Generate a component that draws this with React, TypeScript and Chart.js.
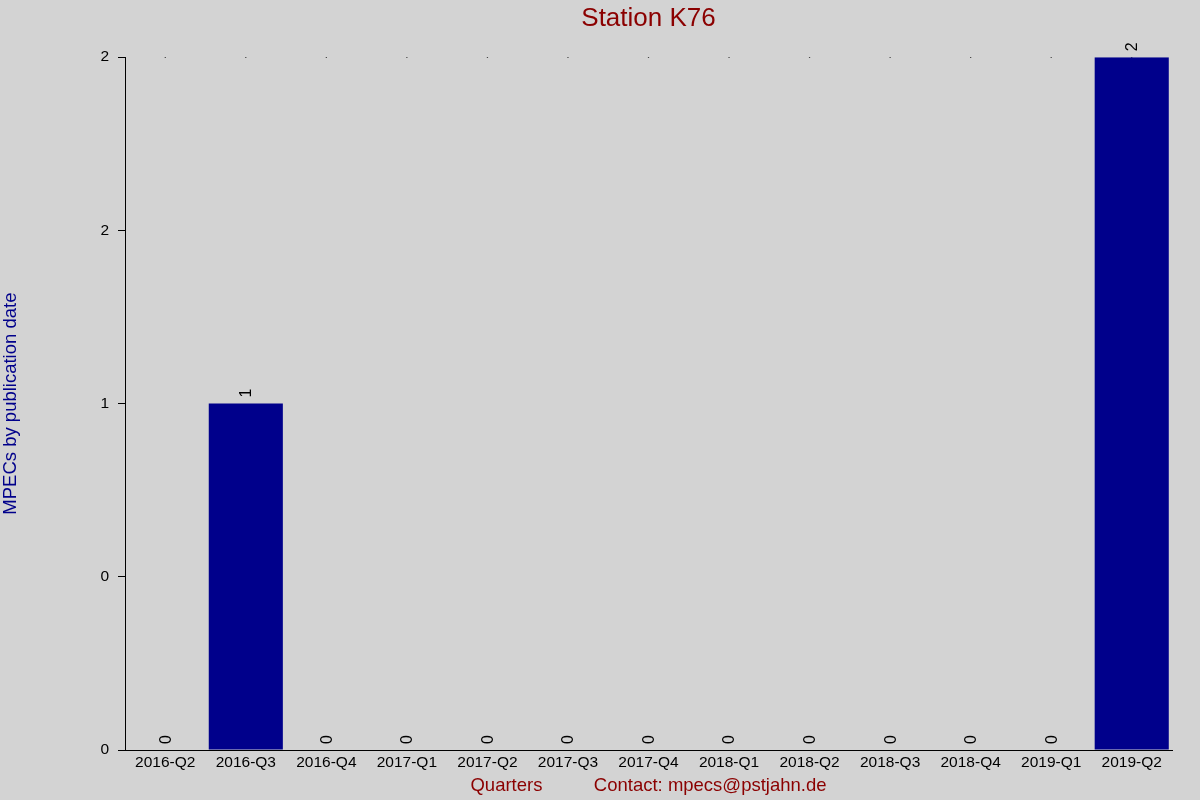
import { useRef, useEffect } from 'react'
import { Chart, registerables } from 'chart.js'

Chart.register(...registerables)

const quarters = [
  '2016-Q2', '2016-Q3', '2016-Q4', '2017-Q1', '2017-Q2', '2017-Q3', '2017-Q4',
  '2018-Q1', '2018-Q2', '2018-Q3', '2018-Q4', '2019-Q1', '2019-Q2',
]
const mpecCounts = [0, 1, 0, 0, 0, 0, 0, 0, 0, 0, 0, 0, 2]
const topMarks = [2, 2, 2, 2, 2, 2, 2, 2, 2, 2, 2, 2, 2]
const yTickLabels = ['0', '0', '1', '2', '2']

const FONT = "'Liberation Sans', Arial, sans-serif"

const barLabels = {
  id: 'barLabels',
  afterDatasetsDraw(chart: Chart) {
    const meta = chart.getDatasetMeta(0)
    const ctx = chart.ctx
    ctx.save()
    ctx.fillStyle = '#000'
    ctx.font = `16px ${FONT}`
    ctx.textAlign = 'left'
    ctx.textBaseline = 'middle'
    meta.data.forEach((el: any, i: number) => {
      ctx.save()
      ctx.translate(el.x + 1, el.y - 6)
      ctx.rotate(-Math.PI / 2)
      ctx.fillText(String(mpecCounts[i]), 0, 0)
      ctx.restore()
    })
    ctx.restore()
  },
}

export default function App() {
  const canvasRef = useRef<HTMLCanvasElement>(null)
  const chartRef = useRef<Chart | null>(null)

  useEffect(() => {
    if (!canvasRef.current) return
    chartRef.current?.destroy()

    chartRef.current = new Chart(canvasRef.current, {
      type: 'bar',
      data: {
        labels: quarters,
        datasets: [
          {
            label: 'MPECs',
            data: mpecCounts,
            backgroundColor: '#00008b',
            borderWidth: 0,
            barPercentage: 0.92,
            categoryPercentage: 1,
            order: 1,
          },
          {
            type: 'line',
            label: 'marks',
            data: topMarks,
            showLine: false,
            pointRadius: 0.7,
            pointBackgroundColor: '#000',
            pointBorderWidth: 0,
            order: 2,
          } as any,
        ],
      },
      options: {
        animation: false,
        responsive: false,
        maintainAspectRatio: false,
        layout: { padding: { left: 0, right: 28, top: 0, bottom: 0 } },
        plugins: {
          legend: { display: false },
          tooltip: { enabled: false },
          title: {
            display: true,
            fullSize: false,
            text: 'Station K76',
            color: '#8b0000',
            font: { family: FONT, size: 26, weight: 'normal' },
            padding: { top: 3, bottom: 23 },
          },
        },
        scales: {
          x: {
            grid: { display: false, drawTicks: false },
            border: { display: true, color: '#000', width: 1 },
            ticks: {
              color: '#000',
              font: { family: FONT, size: 15.5 },
              padding: 3,
              maxRotation: 0,
              autoSkip: false,
            },
            title: {
              display: true,
              text: 'Quarters          Contact: mpecs@pstjahn.de',
              color: '#8b0000',
              font: { family: FONT, size: 18.5 },
              padding: { top: 0, bottom: 3 },
            },
            afterFit(scale: any) {
              scale.height = 50
            },
          },
          y: {
            min: 0,
            max: 2,
            grid: {
              display: true,
              drawOnChartArea: false,
              drawTicks: true,
              tickLength: 7,
              color: '#000',
            },
            border: { display: true, color: '#000', width: 1 },
            ticks: {
              stepSize: 0.5,
              color: '#000',
              font: { family: FONT, size: 15.5 },
              padding: 9,
              callback: (_v: any, i: number) => yTickLabels[i],
            },
            title: {
              display: true,
              text: 'MPECs by publication date',
              color: '#00008b',
              font: { family: FONT, size: 18.5 },
              padding: { top: 0, bottom: 0 },
            },
            afterFit(scale: any) {
              scale.width = 125
            },
          },
        },
      },
      plugins: [barLabels],
    })

    return () => {
      chartRef.current?.destroy()
    }
  }, [])

  return (
    <div
      style={{
        position: 'fixed',
        left: 0,
        top: 0,
        width: 1200,
        height: 800,
        background: '#d3d3d3',
      }}
    >
      <canvas ref={canvasRef} width={1200} height={800} style={{ width: 1200, height: 800 }} />
    </div>
  )
}
